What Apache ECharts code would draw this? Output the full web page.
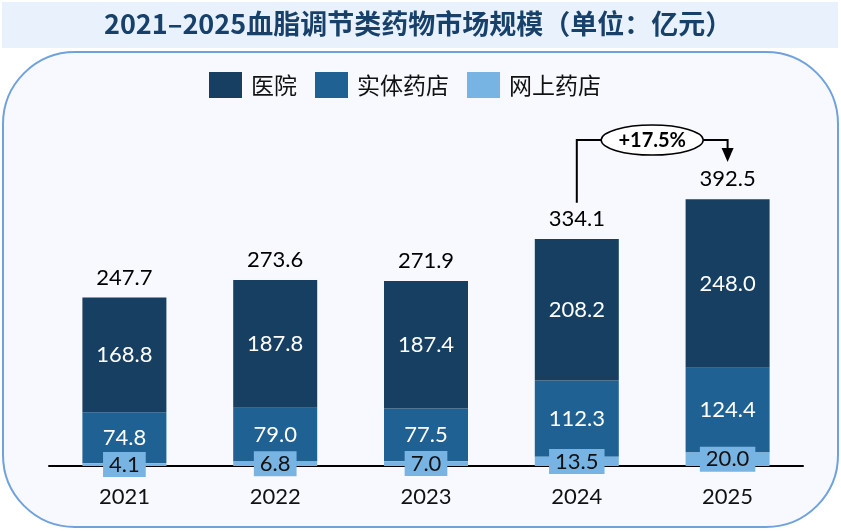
<!DOCTYPE html>
<html>
<head>
<meta charset="utf-8">
<script src="https://cdn.jsdelivr.net/npm/echarts@6/dist/echarts.min.js"></script>
<style>
  html, body { margin: 0; padding: 0; background: #fff; }
  #main { width: 841px; height: 531px; }
</style>
</head>
<body>
<div id="main"></div>
<script>
// 数据
var years = ['2021', '2022', '2023', '2024', '2025'];
var hospital = [168.8, 187.8, 187.4, 208.2, 248.0];
var retail = [74.8, 79.0, 77.5, 112.3, 124.4];
var online = [4.1, 6.8, 7.0, 13.5, 20.0];
var totals = [247.7, 273.6, 271.9, 334.1, 392.5];

var numFont = 'Lato, "Noto Sans", sans-serif';
var cjkFont = '"Noto Sans CJK SC", sans-serif';

var myChart = echarts.init(document.getElementById('main'));

function fmt(p) { return p.value.toFixed(1); }

myChart.setOption({
  animation: false,
  title: {
    text: '2021–2025血脂调节类药物市场规模（单位：亿元）',
    left: 104, top: 10, padding: 0,
    textStyle: { fontFamily: cjkFont, fontSize: 27, fontWeight: 'bold', color: '#17416a' }
  },
  legend: {
    data: ['医院', '实体药店', '网上药店'],
    left: 204, top: 67,
    itemWidth: 33, itemHeight: 26, itemGap: 18,
    icon: 'rect',
    textStyle: { fontFamily: cjkFont, fontSize: 23, color: '#111', padding: [0, 0, 0, 4] }
  },
  grid: { left: 49, right: 38, top: 160, bottom: 65 },
  xAxis: {
    type: 'category',
    data: years,
    axisLine: { lineStyle: { color: '#000', width: 2 } },
    axisTick: { show: false },
    axisLabel: { color: '#111', fontSize: 22, fontFamily: numFont, margin: 20 }
  },
  yAxis: { type: 'value', min: 0, max: 450, show: false },
  series: [
    {
      name: '网上药店', type: 'bar', stack: 'a', barWidth: 84, data: online,
      itemStyle: { color: '#78b4e3' },
      label: {
        show: true, position: 'inside', formatter: fmt,
        color: '#111', fontSize: 22, fontFamily: numFont,
        backgroundColor: '#78b4e3', padding: [2, 6, 1, 6]
      },
      z: 3
    },
    {
      name: '实体药店', type: 'bar', stack: 'a', barWidth: 84, data: retail,
      itemStyle: { color: '#1f6193' },
      label: { show: true, position: 'inside', formatter: fmt, color: '#fff', fontSize: 22, fontFamily: numFont }
    },
    {
      name: '医院', type: 'bar', stack: 'a', barWidth: 84, data: hospital,
      itemStyle: { color: '#163f62' },
      label: { show: true, position: 'inside', formatter: fmt, color: '#fff', fontSize: 22, fontFamily: numFont }
    },
    {
      // 合计标签：透明柱与堆叠柱重叠
      name: '合计', type: 'bar', barWidth: 84, barGap: '-100%', data: totals, z: 1,
      itemStyle: { color: 'rgba(0,0,0,0)' },
      label: { show: true, position: 'top', distance: 9, formatter: fmt, color: '#000', fontSize: 22, fontFamily: numFont }
    }
  ]
});

// 背景与增长率标注
var a = myChart.convertToPixel({ seriesIndex: 0 }, [3, totals[3]]);
var b = myChart.convertToPixel({ seriesIndex: 0 }, [4, totals[4]]);
var growth = ((totals[4] / totals[3] - 1) * 100).toFixed(1);
var lineY = b[1] - 59;
var midX = (a[0] + b[0]) / 2;
var rx = 51, ry = 15;

myChart.setOption({
  graphic: [
    { type: 'rect', z: -10, shape: { x: 2, y: 2, width: 836, height: 46 }, style: { fill: '#e9f2fc' } },
    { type: 'rect', z: -9, shape: { x: 3, y: 52, width: 835, height: 475, r: 72 },
      style: { fill: '#f7f9fe', stroke: '#6fa2dd', lineWidth: 2 } },
    { type: 'polyline', z: 10, shape: { points: [[a[0], a[1] - 36], [a[0], lineY], [midX - rx, lineY]] },
      style: { stroke: '#000', lineWidth: 2, fill: null } },
    { type: 'polyline', z: 10, shape: { points: [[midX + rx, lineY], [b[0], lineY], [b[0], b[1] - 50]] },
      style: { stroke: '#000', lineWidth: 2, fill: null } },
    { type: 'polygon', z: 10, shape: { points: [[b[0] - 6, b[1] - 51], [b[0] + 6, b[1] - 51], [b[0], b[1] - 37]] },
      style: { fill: '#000' } },
    { type: 'ellipse', z: 10, shape: { cx: midX, cy: lineY, rx: rx, ry: ry },
      style: { fill: '#fff', stroke: '#000', lineWidth: 1.5 } },
    { type: 'text', z: 11, x: midX, y: lineY,
      style: { text: '+' + growth + '%', fill: '#000', fontSize: 20, fontWeight: 'bold', fontFamily: numFont,
        align: 'center', verticalAlign: 'middle' } }
  ]
});
</script>
</body>
</html>
